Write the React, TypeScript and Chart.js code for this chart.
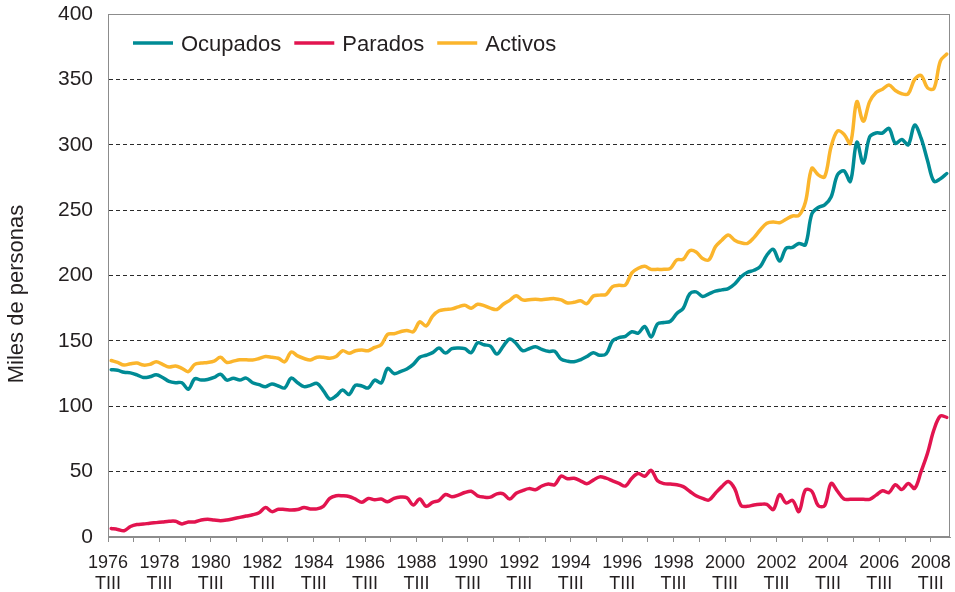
import React, { useEffect, useRef } from 'react';
import { Chart, registerables } from 'chart.js';

Chart.register(...registerables);

// ---- data (quarterly, 1976 TIII -> 2009 TI) ----
const quarterTag = 'TIII';
const yearLabels = ['1976', '1978', '1980', '1982', '1984', '1986', '1988', '1990', '1992', '1994', '1996', '1998', '2000', '2002', '2004', '2006', '2008'];
const seriesNames = ['Ocupados', 'Parados', 'Activos'];
const yTitle = 'Miles de personas';
const yTicks = [0, 50, 100, 150, 200, 250, 300, 350, 400];

const ocupados = [
  128, 127.5, 126, 125.5, 124, 122, 122.5, 124, 122, 119,
  118, 118, 113, 121, 120, 120.5, 122, 124.5, 120, 121.5,
  120, 121.5, 118, 116.5, 115, 117, 115.5, 114, 121.5, 118,
  115, 116, 117.5, 112, 105.5, 108, 112.4, 109, 116, 115.5,
  114, 120, 117.8, 129, 125, 126.5, 128.5, 132, 137.5, 139,
  141, 144.5, 140.7, 144, 144.5, 144, 141, 148.5, 147, 146,
  140, 146, 151.5, 148, 142.5, 144, 145.5, 143.5, 142, 142,
  136, 134.5, 134, 135.5, 138, 141, 139, 140, 150, 152.5,
  153.5, 157, 156, 161, 153, 163, 164, 165, 171, 175,
  186, 187.5, 184, 186, 188, 189, 190, 193.5, 199, 202.5,
  204, 207, 215.5, 220, 211, 220.8, 221.5, 224.5, 223.5, 247,
  252, 254, 260, 277, 280, 272, 302, 286, 306, 309,
  309, 312.5, 301, 304, 300, 315, 305, 288, 272, 274,
  278,
];

const parados = [
  6.5, 5.8, 4.8, 8, 9.5, 9.9, 10.5, 11, 11.5, 12,
  12, 10, 11.5, 11.5, 13, 13.5, 13, 12.5, 13, 14,
  15, 16, 17, 18.5, 22.5, 19.4, 21.2, 21, 20.6, 21,
  22.5, 21.5, 21.5, 23.5, 29.5, 31.5, 31.5, 31, 29, 26.5,
  29.5, 28.5, 29, 27, 29.5, 30.5, 30, 24.5, 29, 23.5,
  26.5, 28, 32.5, 30.8, 32, 34, 35, 31.5, 30.5, 30.5,
  33, 33, 29, 33.4, 35.5, 37, 36.2, 39, 40.5, 40,
  46.5, 44.5, 44.9, 43, 40.8, 43.5, 46, 45, 43, 41,
  39, 45, 48.5, 46.5, 51, 43, 40.8, 40.5, 40, 38.5,
  35, 31.5, 29.5, 28.3, 33.5, 38.5, 42.5, 37, 24, 23.5,
  24.5, 25, 25, 21, 32.5, 26, 28, 19.5, 36, 35,
  24, 24, 41, 35, 29, 28.8, 28.8, 28.8, 28.8, 32,
  35.4, 34, 40, 36.3, 41, 37.2, 50, 64, 82, 92.5,
  91.5,
];

const activos = [
  135, 133.5, 131.5, 132.5, 133, 131.5, 132, 134, 132, 130,
  130.8, 129, 126.5, 132, 133, 133.5, 134.5, 137.4, 133.5, 134.5,
  135.5, 135.5, 135.4, 136.5, 138, 137.5, 136.7, 134, 141.5, 138.5,
  136.5, 135.4, 137.5, 137.5, 136.7, 138, 142.5, 140.5, 142.5, 143,
  142.5, 145, 147, 155, 155.5, 157, 158, 157, 164.5, 161.5,
  169, 173, 174, 174.5, 176, 177.2, 175, 178, 177, 175,
  174, 178, 181, 184.5, 181.3, 181.5, 181.8, 181.5, 182, 182.3,
  181.3, 179, 179.5, 180.7, 178.5, 184.3, 185, 185.5, 191.5, 192.5,
  192.7, 202, 205.5, 207, 204.7, 204.7, 204.7, 205.5, 211.9, 212.4,
  219, 218, 213, 212, 222, 227, 231, 227, 225, 224.6,
  229, 235, 240, 241, 240.4, 243, 245.5, 246, 256, 282,
  277, 275.5, 298.5, 310.5, 308, 301, 333, 318, 333, 340,
  342.5, 345.7, 341.5, 339, 339, 350, 353, 343.5, 343, 364,
  369.4,
];

const seriesColors = ['#008b95', '#e2144f', '#fbb52c'];
const FONT = "'Liberation Sans', Arial, Helvetica, sans-serif";
const TEXT = '#231f20';
const AXIS = '#8c8c8c';

export default function App() {
  const ref = useRef<HTMLCanvasElement | null>(null);

  useEffect(() => {
    document.body.style.margin = '0';
    const canvas = ref.current;
    if (!canvas) return;
    const n = ocupados.length;
    const toPts = (arr: number[]) => arr.map((v, i) => ({ x: i + 0.5, y: v }));
    const allSeries = [ocupados, parados, activos];

    const customPlugin = {
      id: 'customDecor',
      beforeDatasetsDraw(chart: any) {
        const { ctx, chartArea: a } = chart;
        ctx.save();
        ctx.strokeStyle = AXIS;
        ctx.lineWidth = 1;
        ctx.strokeRect(Math.round(a.left) + 0.5, Math.round(a.top) + 0.5, Math.round(a.right - a.left) - 1, Math.round(a.bottom - a.top) - 1);
        ctx.restore();
      },
      afterDraw(chart: any) {
        const { ctx } = chart;
        ctx.save();
        // legend
        ctx.font = `22px ${FONT}`;
        ctx.fillStyle = TEXT;
        ctx.textBaseline = 'alphabetic';
        ctx.textAlign = 'left';
        let x = 133;
        const ly = 43;
        chart.data.datasets.forEach((ds: any) => {
          ctx.strokeStyle = ds.borderColor;
          ctx.lineWidth = 3.5;
          ctx.beginPath();
          ctx.moveTo(x, ly);
          ctx.lineTo(x + 40, ly);
          ctx.stroke();
          x += 48;
          ctx.fillText(ds.label, x, 51);
          x += ctx.measureText(ds.label).width + 13;
        });
        // y title
        ctx.translate(17, 294);
        ctx.rotate(-Math.PI / 2);
        ctx.textAlign = 'center';
        ctx.textBaseline = 'middle';
        ctx.font = `22px ${FONT}`;
        ctx.fillText(yTitle, 0, 0);
        ctx.restore();
      },
    };

    const chart = new Chart(canvas, {
      type: 'line',
      data: {
        datasets: seriesNames.map((name, k) => ({
          label: name,
          data: toPts(allSeries[k]),
          borderColor: seriesColors[k],
          backgroundColor: seriesColors[k],
          borderWidth: 3.5,
          pointRadius: 0,
          tension: 0.35,
          borderCapStyle: 'round',
          borderJoinStyle: 'round',
          fill: false,
        })),
      },
      options: {
        responsive: false,
        animation: false,
        devicePixelRatio: 1,
        layout: { padding: { top: 14, right: 5, left: 0, bottom: 0 } },
        plugins: { legend: { display: false }, tooltip: { enabled: false } },
        scales: {
          x: {
            type: 'linear',
            min: 0,
            max: n,
            grid: { drawOnChartArea: false, drawTicks: true, tickLength: 5, color: AXIS, tickColor: AXIS },
            border: { display: true, color: AXIS, width: 1 },
            ticks: {
              autoSkip: false,
              maxRotation: 0,
              minRotation: 0,
              padding: 10,
              color: TEXT,
              font: { family: FONT, size: 18, lineHeight: 1.2 },
              callback: (value: any) => {
                const k = Math.round(Number(value) / 4);
                return k % 2 === 0 ? [yearLabels[k / 2], quarterTag] : '';
              },
            },
            afterBuildTicks: (scale: any) => {
              const count = (yearLabels.length - 1) * 2 + 1;
              scale.ticks = Array.from({ length: count }, (_, k) => ({ value: k * 4 }));
            },
            afterFit: (scale: any) => {
              scale.height = 55;
              scale.paddingLeft = 0;
              scale.paddingRight = 0;
            },
          },
          y: {
            min: yTicks[0],
            max: yTicks[yTicks.length - 1],
            grid: {
              drawTicks: false,
              lineWidth: 1,
              color: (ctx: any) => {
                const v = ctx.tick ? ctx.tick.value : 0;
                return v === yTicks[0] || v === yTicks[yTicks.length - 1] ? 'rgba(0,0,0,0)' : '#2b2b2b';
              },
            },
            border: { display: true, color: AXIS, width: 1, dash: [4, 3] },
            ticks: {
              stepSize: 50,
              padding: 15,
              color: TEXT,
              font: { family: FONT, size: 21 },
            },
            afterBuildTicks: (scale: any) => {
              scale.ticks = yTicks.map((v) => ({ value: v }));
            },
            afterFit: (scale: any) => {
              scale.width = 108;
              scale.paddingTop = 0;
              scale.paddingBottom = 0;
            },
          },
        },
      } as any,
      plugins: [customPlugin],
    });
    return () => chart.destroy();
  }, []);

  return (
    <div style={{ width: 955, height: 592 }}>
      <canvas ref={ref} width={955} height={592} style={{ display: 'block' }} />
    </div>
  );
}
